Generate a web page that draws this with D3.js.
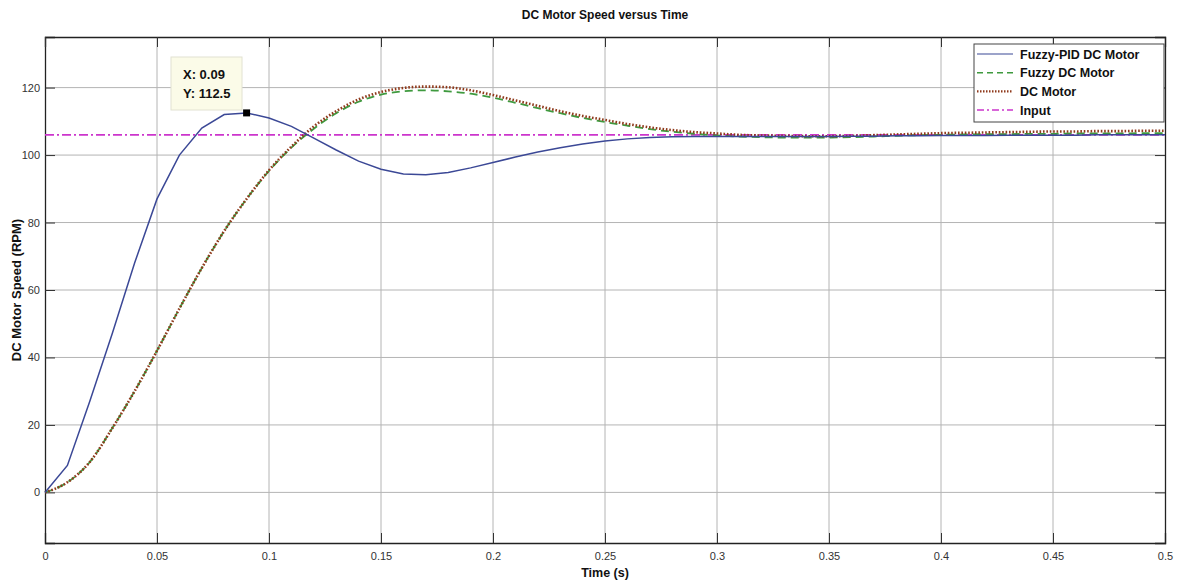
<!DOCTYPE html>
<html>
<head>
<meta charset="utf-8">
<script src="https://cdn.jsdelivr.net/npm/d3@7"></script>
<style>
  body { margin: 0; background: #fff; }
  svg text { font-family: "Liberation Sans", Arial, sans-serif; }
</style>
</head>
<body>
<div id="chart"></div>
<script>
// time samples, 0 .. 0.5 s every 0.01
var time = d3.range(0, 51).map(function (i) { return i / 100; });

var fuzzyPid = [0, 8, 27, 47, 68, 87, 100, 108, 112, 112.5,
  111, 108.5, 105, 101.5, 98.2, 95.8, 94.4, 94.2, 94.8, 96.2,
  97.8, 99.4, 100.9, 102.2, 103.3, 104.2, 104.8, 105.2, 105.4, 105.5,
  105.5, 105.5, 105.5, 105.5, 105.5, 105.5, 105.6, 105.6, 105.7, 105.7,
  105.8, 105.8, 105.8, 105.9, 105.9, 105.9, 105.9, 106, 106, 106, 106];

var fuzzyDc = [0, 3, 9, 19, 30, 42, 54.5, 66.5, 77.5, 87,
  95.3, 102.2, 107.8, 112.4, 115.8, 117.9, 118.9, 119.2, 118.9, 118.2,
  117, 115.5, 113.9, 112.4, 111, 109.8, 108.7, 107.7, 106.9, 106.3,
  105.8, 105.5, 105.3, 105.2, 105.2, 105.2, 105.3, 105.5, 105.7, 105.9,
  106, 106.1, 106.2, 106.2, 106.3, 106.3, 106.4, 106.4, 106.4, 106.5, 106.5];

var dcMotor = [0, 3, 9, 19, 30, 42, 54.5, 66.5, 77.5, 87,
  95.5, 102.5, 108.5, 113, 116.5, 118.7, 119.9, 120.3, 120.1, 119.2,
  117.8, 116.2, 114.6, 113, 111.6, 110.4, 109.2, 108.2, 107.4, 106.8,
  106.4, 106, 105.8, 105.7, 105.6, 105.6, 105.7, 105.9, 106.1, 106.3,
  106.5, 106.6, 106.7, 106.8, 106.9, 107, 107, 107.1, 107.1, 107.2, 107.2];

var inputLevel = 106;

var xTicks = [0, 0.05, 0.1, 0.15, 0.2, 0.25, 0.3, 0.35, 0.4, 0.45, 0.5];
var yTicks = [0, 20, 40, 60, 80, 100, 120];

var seriesNames = ["Fuzzy-PID DC Motor", "Fuzzy DC Motor", "DC Motor", "Input"];

var tipPoint = {x: 0.09, y: 112.5};

var width = 1177, height = 581;
var margin = {top: 37, right: 12, bottom: 38, left: 45};

var svg = d3.select("#chart").append("svg")
    .attr("width", width)
    .attr("height", height);

var x = d3.scaleLinear().domain([0, 0.5]).range([margin.left, width - margin.right]);
var y = d3.scaleLinear().domain([-15, 135]).range([height - margin.bottom, margin.top]);

// grid
svg.append("g").selectAll("line.vg")
    .data(xTicks.slice(1, -1))
  .enter().append("line")
    .attr("x1", function (d) { return x(d); })
    .attr("x2", function (d) { return x(d); })
    .attr("y1", y(-15)).attr("y2", y(135))
    .style("stroke", "#b4b4b4").style("stroke-width", 1);

svg.append("g").selectAll("line.hg")
    .data(yTicks)
  .enter().append("line")
    .attr("x1", x(0)).attr("x2", x(0.5))
    .attr("y1", function (d) { return y(d); })
    .attr("y2", function (d) { return y(d); })
    .style("stroke", "#b4b4b4").style("stroke-width", 1);

// axes (ticks inside on all sides)
var tickLen = 10;
var xAxis = svg.append("g")
    .attr("transform", "translate(0," + y(-15) + ")")
    .call(d3.axisBottom(x).tickValues(xTicks).tickSize(-tickLen).tickPadding(9)
      .tickFormat(function (d) { return d === 0 ? "0" : String(+d.toFixed(2)); }));
var yAxis = svg.append("g")
    .attr("transform", "translate(" + x(0) + ",0)")
    .call(d3.axisLeft(y).tickValues(yTicks).tickSize(-tickLen).tickPadding(5));
var xTop = svg.append("g")
    .attr("transform", "translate(0," + y(135) + ")")
    .call(d3.axisTop(x).tickValues(xTicks).tickSize(-tickLen).tickFormat(""));
var yRight = svg.append("g")
    .attr("transform", "translate(" + x(0.5) + ",0)")
    .call(d3.axisRight(y).tickValues(yTicks).tickSize(-tickLen).tickFormat(""));

[xAxis, yAxis, xTop, yRight].forEach(function (g) {
  g.select(".domain").style("stroke", "#222").style("stroke-width", 1.3);
  g.selectAll(".tick line").style("stroke", "#333");
  g.selectAll(".tick text").style("font-size", "11px").style("fill", "#333")
    .style("font-family", "'Liberation Sans', Arial, sans-serif");
});

// lines
var line = function (vals, curve) {
  return d3.line()
    .x(function (d, i) { return x(time[i]); })
    .y(function (d) { return y(d); })
    .curve(curve)(vals);
};

svg.append("line")
    .attr("x1", x(0)).attr("x2", x(0.5))
    .attr("y1", y(inputLevel)).attr("y2", y(inputLevel))
    .style("stroke", "#cc35cc").style("stroke-width", 1.6)
    .style("stroke-dasharray", "9,3,2,3");

svg.append("path")
    .attr("d", line(fuzzyDc, d3.curveMonotoneX))
    .style("fill", "none").style("stroke", "#3f9a3f").style("stroke-width", 1.8)
    .style("stroke-dasharray", "8,5");

svg.append("path")
    .attr("d", line(dcMotor, d3.curveMonotoneX))
    .style("fill", "none").style("stroke", "#8f3a1c").style("stroke-width", 2.6)
    .style("stroke-dasharray", "1.6,1.8");

svg.append("path")
    .attr("d", line(fuzzyPid, d3.curveLinear))
    .style("fill", "none").style("stroke", "#3b4896").style("stroke-width", 1.5);

// data tip
svg.append("rect")
    .attr("x", x(tipPoint.x) - 3.5).attr("y", y(tipPoint.y) - 3.5)
    .attr("width", 7).attr("height", 7)
    .style("fill", "#000");

var tip = svg.append("g");
tip.append("rect")
    .attr("x", 171).attr("y", 57).attr("width", 71).attr("height", 53)
    .style("fill", "#fbfbe8").style("stroke", "#e2e2d2");
tip.append("text").attr("x", 183).attr("y", 79)
    .style("font-size", "13px").style("font-weight", "bold").style("fill", "#111")
    .text("X: " + tipPoint.x);
tip.append("text").attr("x", 183).attr("y", 98)
    .style("font-size", "13px").style("font-weight", "bold").style("fill", "#111")
    .text("Y: " + tipPoint.y);

// legend
var legend = svg.append("g");
legend.append("rect")
    .attr("x", 974).attr("y", 44).attr("width", 190).attr("height", 78)
    .style("fill", "#fff").style("stroke", "#444").style("stroke-width", 1);

var legendStyles = [
  {color: "#3b4896", dash: null, w: 1.2},
  {color: "#3f9a3f", dash: "6,4", w: 1.6},
  {color: "#8f3a1c", dash: "1.5,1.5", w: 2.2},
  {color: "#cc35cc", dash: "7,3,2,3", w: 1.5}
];

seriesNames.forEach(function (name, i) {
  var ly = 54 + i * 18.7;
  legend.append("line")
    .attr("x1", 977).attr("x2", 1013).attr("y1", ly).attr("y2", ly)
    .style("stroke", legendStyles[i].color)
    .style("stroke-width", legendStyles[i].w)
    .style("stroke-dasharray", legendStyles[i].dash);
  legend.append("text")
    .attr("x", 1020).attr("y", ly + 4.5)
    .style("font-size", "12.5px").style("font-weight", "bold").style("fill", "#111")
    .text(name);
});

// titles
svg.append("text")
    .attr("x", (x(0) + x(0.5)) / 2).attr("y", 19)
    .attr("text-anchor", "middle")
    .style("font-size", "12px").style("font-weight", "bold").style("fill", "#111")
    .text("DC Motor Speed versus Time");

svg.append("text")
    .attr("x", (x(0) + x(0.5)) / 2).attr("y", 577)
    .attr("text-anchor", "middle")
    .style("font-size", "12.5px").style("font-weight", "bold").style("fill", "#111")
    .text("Time (s)");

svg.append("text")
    .attr("transform", "translate(21," + ((y(-15) + y(135)) / 2) + ") rotate(-90)")
    .attr("text-anchor", "middle")
    .style("font-size", "13px").style("font-weight", "bold").style("fill", "#111")
    .text("DC Motor Speed (RPM)");
</script>
</body>
</html>
